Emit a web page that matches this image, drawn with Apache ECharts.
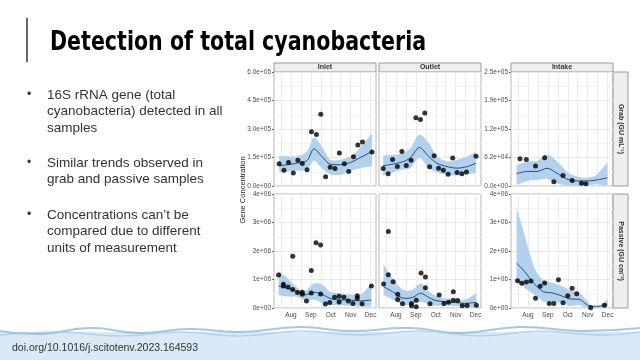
<!DOCTYPE html>
<html><head><meta charset="utf-8">
<script src="https://cdn.jsdelivr.net/npm/echarts@6/dist/echarts.min.js"></script>
<style>html,body{margin:0;padding:0;background:#fff}#c{width:640px;height:360px}</style>
</head><body><div id="c"></div>
<script>
// ---- tick labels / categories ----
const months = ['Aug','Sep','Oct','Nov','Dec'];
const monthPos = [1,2,3,4,5];           // Aug 1 = 1 ... Dec 1 = 5 (months since Jul 1)
const gridPos = [0.5,1,1.5,2,2.5,3,3.5,4,4.5,5];
const sites = ['Inlet','Outlet','Intake'];
const rowLabels = ['Grab (GU mL⁻¹)','Passive (GU cm⁻²)'];
const yLabelsGrab = ['0.0e+00','1.5e+05','3.0e+05','4.5e+05','6.0e+05'];
const yLabelsGrabIntake = ['0.0e+00','6.2e+04','1.2e+05','1.9e+05','2.5e+05'];
const yLabelsPassive = ['0e+00','1e+06','2e+06','3e+06','4e+06'];

// ---- Inlet, grab ----
const inletGrabPts = [[0.41,117000],[0.65,83000],[0.88,124000],[1.12,69000],[1.35,136000],[1.57,118000],[1.81,85000],[2.03,285000],[2.28,271000],[2.5,377000],[2.74,49000],[2.97,99000],[3.21,92000],[3.43,174000],[3.68,117000],[3.9,76000],[4.14,154000],[4.36,216000],[4.59,232000],[5.07,179000]];
const inletGrabFitX = [0.41,1.29,1.8,2.16,2.55,2.97,3.48,3.99,4.49,5.07];
const inletGrabFit = [106000,120000,133000,195000,156000,115000,112000,124000,150000,182000];
const inletGrabHi = [159000,156000,182000,257000,209000,138000,138000,156000,203000,278000];
const inletGrabLo = [73000,80000,85000,133000,94000,62000,58000,80000,94000,102000];

// ---- Outlet, grab ----
const outletGrabPts = [[0.36,92000],[0.61,65000],[0.83,140000],[1.07,102000],[1.3,182000],[1.52,108000],[1.76,136000],[2.0,359000],[2.23,350000],[2.45,384000],[2.69,101000],[2.92,159000],[3.14,94000],[3.38,83000],[3.62,62000],[3.85,147000],[4.07,71000],[4.31,65000],[4.54,74000],[5.02,156000]];
const outletGrabFitX = [0.36,1.29,1.71,2.18,2.64,3.06,3.57,4.07,4.58,5.02];
const outletGrabFit = [106000,126000,147000,203000,156000,120000,102000,94000,102000,120000];
const outletGrabHi = [161000,170000,196000,271000,227000,156000,129000,138000,156000,182000];
const outletGrabLo = [55000,85000,94000,147000,94000,73000,58000,55000,62000,67000];

// ---- Intake, grab ----
const intakeGrabPts = [[0.6,60000],[0.92,58000],[1.38,44000],[1.84,62000],[2.3,9500],[2.76,23000],[3.22,12000],[3.69,6000],[3.91,5000]];
const intakeGrabFitX = [0.43,0.97,1.46,1.96,2.46,2.95,3.44,3.94,4.43,4.99];
const intakeGrabFit = [27000,32000,32000,39000,28000,15500,11000,11000,13000,18000];
const intakeGrabHi = [46000,54000,55000,69000,54000,32000,21000,18000,24000,52000];
const intakeGrabLo = [2000,11000,13000,15500,6000,1000,0,1000,4000,0];

// ---- Inlet, passive ----
const inletPassPts = [[0.38,1160000],[0.62,830000],[0.62,770000],[0.86,740000],[1.09,1820000],[1.09,650000],[1.33,540000],[1.57,550000],[1.57,480000],[1.78,250000],[2.02,1320000],[2.02,530000],[2.26,2290000],[2.49,2210000],[2.49,490000],[2.73,140000],[2.95,190000],[3.19,380000],[3.42,410000],[3.42,210000],[3.66,380000],[3.88,250000],[4.11,160000],[4.33,430000],[4.33,340000],[4.57,150000],[5.04,770000]];
const inletPassFitX = [0.38,0.84,1.26,1.68,2.19,2.61,2.95,3.46,3.96,4.47,5.04];
const inletPassFit = [770000,690000,600000,460000,550000,460000,340000,280000,280000,250000,280000];
const inletPassHi = [1300000,1040000,750000,600000,870000,810000,570000,520000,480000,460000,850000];
const inletPassLo = [460000,400000,400000,280000,280000,160000,100000,100000,80000,50000,50000];

// ---- Outlet, passive ----
const outletPassPts = [[0.38,840000],[0.62,2680000],[0.62,1170000],[0.86,920000],[1.09,480000],[1.09,300000],[1.33,150000],[1.78,160000],[1.78,80000],[2.02,270000],[2.02,40000],[2.26,1230000],[2.48,1090000],[2.48,710000],[2.71,150000],[3.17,460000],[3.41,160000],[3.64,200000],[3.88,570000],[3.88,270000],[4.1,260000],[4.33,80000],[4.57,90000],[5.04,100000]];
const outletPassFitX = [0.38,0.89,1.39,1.81,2.24,2.58,2.91,3.42,3.92,4.43,5.04];
const outletPassFit = [750000,550000,340000,360000,520000,400000,280000,220000,200000,160000,200000];
const outletPassHi = [1530000,980000,630000,630000,870000,630000,460000,340000,310000,280000,520000];
const outletPassLo = [460000,280000,100000,130000,220000,150000,80000,80000,80000,40000,0];

// ---- Intake, passive ----
const intakePassPts = [[0.48,960000],[0.69,870000],[0.92,910000],[1.15,950000],[1.38,340000],[1.61,760000],[1.84,880000],[2.07,160000],[2.3,160000],[2.53,990000],[2.76,180000],[3.0,430000],[3.22,690000],[3.45,500000],[4.15,10000],[4.84,100000]];
const intakePassFitX = [0.43,0.69,0.97,1.22,1.46,1.79,2.28,2.78,3.11,3.6,3.93,4.18,4.59,4.99];
const intakePassFit = [1570000,1390000,1160000,920000,750000,570000,520000,400000,320000,300000,130000,60000,60000,140000];
const intakePassHi = [3520000,2910000,2210000,1620000,1220000,980000,870000,750000,630000,520000,280000,100000,100000,300000];
const intakePassLo = [920000,810000,630000,520000,400000,220000,220000,160000,70000,100000,0,0,20000,0];

const panels = [
  {pts:inletGrabPts, fx:inletGrabFitX, fit:inletGrabFit, hi:inletGrabHi, lo:inletGrabLo, ymax:600000, yint:150000, ylab:yLabelsGrab, showY:true, showX:false},
  {pts:outletGrabPts, fx:outletGrabFitX, fit:outletGrabFit, hi:outletGrabHi, lo:outletGrabLo, ymax:600000, yint:150000, ylab:yLabelsGrab, showY:false, showX:false},
  {pts:intakeGrabPts, fx:intakeGrabFitX, fit:intakeGrabFit, hi:intakeGrabHi, lo:intakeGrabLo, ymax:250000, yint:62500, ylab:yLabelsGrabIntake, showY:true, showX:false},
  {pts:inletPassPts, fx:inletPassFitX, fit:inletPassFit, hi:inletPassHi, lo:inletPassLo, ymax:4000000, yint:1000000, ylab:yLabelsPassive, showY:true, showX:true},
  {pts:outletPassPts, fx:outletPassFitX, fit:outletPassFit, hi:outletPassHi, lo:outletPassLo, ymax:4000000, yint:1000000, ylab:yLabelsPassive, showY:false, showX:true},
  {pts:intakePassPts, fx:intakePassFitX, fit:intakePassFit, hi:intakePassHi, lo:intakePassLo, ymax:4000000, yint:1000000, ylab:yLabelsPassive, showY:true, showX:true}
];

// layout (pixels)
const colLeft = [274, 379, 511];
const rowTop = [72, 194];
const panelW = 102, panelH = 114;

const grids = [], xAxes = [], yAxes = [], series = [];
panels.forEach((p, i) => {
  const col = i % 3, row = Math.floor(i / 3);
  grids.push({left: colLeft[col], top: rowTop[row], width: panelW, height: panelH, show: true,
    borderColor: '#b5b5b5', borderWidth: 1, backgroundColor: 'transparent'});
  xAxes.push({type: 'value', gridIndex: i, min: 0.15, max: 5.27,
    axisLine: {show: false},
    axisTick: {show: false, customValues: gridPos},
    splitLine: {show: true, lineStyle: {color: '#ebebeb', width: 1}},
    axisLabel: {show: p.showX, customValues: monthPos, formatter: v => months[Math.round(v) - 1],
      fontSize: 6.5, color: '#4d4d4d', margin: 4, fontFamily: 'Liberation Sans'}});
  yAxes.push({type: 'value', gridIndex: i, min: 0, max: p.ymax, interval: p.yint,
    axisLine: {show: false},
    axisTick: {show: p.showY, length: 2, lineStyle: {color: '#666'}},
    axisLabel: {show: p.showY, fontSize: 6.5, color: '#4d4d4d', margin: 3, fontFamily: 'Liberation Sans',
      formatter: v => p.ylab[Math.round(v / p.yint)]},
    splitLine: {show: true, lineStyle: {color: '#e8e8e8', width: 1}},
    minorTick: {show: false, splitNumber: 2},
    minorSplitLine: {show: true, lineStyle: {color: '#f3f3f3', width: 1}}});
  // confidence ribbon: polygon through the library's coordinate conversion
  series.push({type: 'custom', xAxisIndex: i, yAxisIndex: i, silent: true, clip: true, z: 1,
    data: [0],
    renderItem: (params, api) => {
      const up = p.fx.map((x, k) => api.coord([x, p.hi[k]]));
      const dn = p.fx.map((x, k) => api.coord([x, p.lo[k]])).reverse();
      const pts = [up[0]].concat(up, [up[up.length - 1], dn[0]], dn, [dn[dn.length - 1]]);
      return {type: 'polygon', shape: {points: pts, smooth: 0.3}, style: {fill: '#b1d1ec'}};
    }});
  series.push({type: 'line', xAxisIndex: i, yAxisIndex: i, silent: true,
    data: p.fx.map((x, k) => [x, p.fit[k]]), symbol: 'none', smooth: 0.3,
    lineStyle: {color: '#2b4d6f', width: 1}, z: 3});
  series.push({type: 'scatter', xAxisIndex: i, yAxisIndex: i, silent: true,
    data: p.pts, symbolSize: 5, itemStyle: {color: '#000'}, z: 4});
});

const graphic = [];
// footer water band
graphic.push({type: 'rect', shape: {x: 0, y: 332, width: 640, height: 28}, style: {fill: '#d9eaf6'}, z: 0});
graphic.push({type: 'polyline', shape: {smooth: 0.5, points: [[0,331],[40,334],[90,328],[140,333],[190,329],[240,332],[300,327],[350,331],[410,328],[460,333],[520,327],[580,331],[640,328]]},
  style: {stroke: '#7fb0d6', lineWidth: 2, fill: null, opacity: 0.7}, z: 1});
graphic.push({type: 'polyline', shape: {smooth: 0.5, points: [[0,335],[60,332],[120,336],[180,332],[240,336],[300,331],[360,335],[420,331],[480,336],[540,331],[600,335],[640,332]]},
  style: {stroke: '#a9cbe6', lineWidth: 1.5, fill: null, opacity: 0.8}, z: 1});
graphic.push({type: 'text', x: 12, y: 348, style: {text: 'doi.org/10.1016/j.scitotenv.2023.164593', fontSize: 10.5,
  fontFamily: 'Liberation Sans', fill: '#333', verticalAlign: 'middle'}, z: 5});
// title
graphic.push({type: 'line', shape: {x1: 27, y1: 18, x2: 27, y2: 62}, style: {stroke: '#333', lineWidth: 1.5}});
graphic.push({type: 'text', x: 50, y: 43, scaleX: 0.88, style: {text: 'Detection of total cyanobacteria', fontSize: 26, fontWeight: 'bold',
  fontFamily: '"Liberation Sans Narrow", "DejaVu Sans Condensed", sans-serif', fill: '#000', verticalAlign: 'middle'}});
// bullets
const bulletLines = [
  ['16S rRNA gene (total', 'cyanobacteria) detected in all', 'samples'],
  ['Similar trends observed in', 'grab and passive samples'],
  ['Concentrations can’t be', 'compared due to different', 'units of measurement']
];
const bulletTop = [95, 163, 215];
bulletLines.forEach((lines, b) => {
  graphic.push({type: 'text', x: 29, y: bulletTop[b], style: {text: '•', fontSize: 12, fill: '#333', align: 'center', verticalAlign: 'middle', fontFamily: 'Liberation Sans'}});
  lines.forEach((t, j) => {
    graphic.push({type: 'text', x: 47, y: bulletTop[b] + j * 16.7, style: {text: t, fontSize: 13.5,
      fontFamily: 'Liberation Sans', fill: '#333', verticalAlign: 'middle'}});
  });
});
// facet strips
sites.forEach((s, c) => {
  graphic.push({type: 'rect', shape: {x: colLeft[c], y: 63, width: panelW, height: 9}, style: {fill: '#eeeeee', stroke: '#9a9a9a', lineWidth: 1}});
  graphic.push({type: 'text', x: colLeft[c] + panelW / 2, y: 67.5, style: {text: s, fontSize: 7, fontWeight: 'bold',
    fontFamily: 'Liberation Sans', fill: '#333', align: 'center', verticalAlign: 'middle'}});
});
rowLabels.forEach((r, k) => {
  const x0 = colLeft[2] + panelW;
  graphic.push({type: 'rect', shape: {x: x0, y: rowTop[k], width: 15, height: panelH}, style: {fill: '#eeeeee', stroke: '#9a9a9a', lineWidth: 1}});
  graphic.push({type: 'text', x: x0 + 7.5, y: rowTop[k] + panelH / 2, rotation: -Math.PI / 2,
    style: {text: r, fontSize: 7, fontWeight: 'bold', fontFamily: 'Liberation Sans', fill: '#333', align: 'center', verticalAlign: 'middle'}});
});
// y axis title
graphic.push({type: 'text', x: 243, y: 190, rotation: Math.PI / 2,
  style: {text: 'Gene Concentration', fontSize: 7.5, fontFamily: 'Liberation Sans', fill: '#222', align: 'center', verticalAlign: 'middle'}});

const chart = echarts.init(document.getElementById('c'), null, {renderer: 'canvas'});
chart.setOption({
  animation: false,
  backgroundColor: '#fff',
  grid: grids, xAxis: xAxes, yAxis: yAxes, series: series, graphic: graphic
});
</script></body></html>
